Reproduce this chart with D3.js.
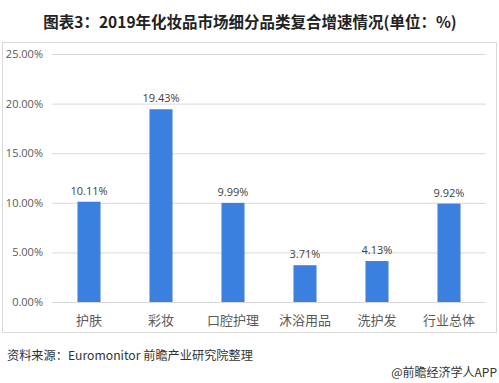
<!DOCTYPE html>
<html><head><meta charset="utf-8">
<script src="https://cdn.jsdelivr.net/npm/d3@7"></script>
<style>
body{margin:0;background:#fff;}
text{font-family:"Microsoft YaHei","Noto Sans CJK SC","DejaVu Sans",sans-serif;}
</style></head>
<body><svg id="c" width="499" height="383"></svg>
<script>
const categories = ["护肤","彩妆","口腔护理","沐浴用品","洗护发","行业总体"];
const values = [10.11, 19.43, 9.99, 3.71, 4.13, 9.92];
const yTicks = [0, 5, 10, 15, 20, 25];
const title = "图表3：2019年化妆品市场细分品类复合增速情况(单位：%)";
const source = "资料来源：Euromonitor 前瞻产业研究院整理";
const credit = "@前瞻经济学人APP";

const svg = d3.select("#c");
svg.append("rect").attr("x",2.5).attr("y",42.5).attr("width",494).attr("height",290)
  .attr("fill","#fff").attr("stroke","#d9d9d9");

svg.append("text").attr("x",250).attr("y",28).attr("text-anchor","middle")
  .attr("font-size",15.5).attr("font-weight","bold").attr("fill","#222").text(title);

const x = d3.scaleBand().domain(categories).range([53,485]).paddingInner(0.68).paddingOuter(0.34);
const y = d3.scaleLinear().domain([0,25]).range([302,54]);

const yAxis = svg.append("g").attr("transform","translate(52,0)")
  .call(d3.axisLeft(y).tickValues(yTicks).tickSize(-434).tickPadding(9).tickFormat(d=>d.toFixed(2)+"%"));
yAxis.select(".domain").remove();
yAxis.selectAll("line").attr("stroke","#d9d9d9");
yAxis.selectAll("text").attr("font-size",11).attr("fill","#595959")
  .style("font-family","'Open Sans','DejaVu Sans',sans-serif");

svg.selectAll("rect.bar").data(values).join("rect").attr("class","bar")
  .attr("x",(d,i)=>x(categories[i])).attr("width",x.bandwidth())
  .attr("y",d=>y(d)).attr("height",d=>y(0)-y(d)).attr("fill","#3b80df");

svg.selectAll("text.val").data(values).join("text").attr("class","val")
  .attr("x",(d,i)=>x(categories[i])+x.bandwidth()/2).attr("y",d=>y(d)-7)
  .attr("text-anchor","middle").attr("font-size",11).attr("fill","#404040")
  .style("font-family","'Open Sans','DejaVu Sans',sans-serif")
  .text(d=>d.toFixed(2)+"%");

const xAxis = svg.append("g").attr("transform","translate(0,302)")
  .call(d3.axisBottom(x).tickSize(0).tickPadding(14));
xAxis.select(".domain").remove();
xAxis.selectAll("text").attr("font-size",13).attr("fill","#595959")
  .style("font-family","'Noto Sans CJK SC',sans-serif");

svg.append("text").attr("x",7).attr("y",360).attr("font-size",12.2).attr("fill","#333")
  .style("font-family","'Noto Sans CJK SC',sans-serif").text(source);
svg.append("text").attr("x",497).attr("y",377).attr("text-anchor","end").attr("font-size",12).attr("fill","#333")
  .style("font-family","'Noto Sans CJK SC',sans-serif").text(credit);
</script></body></html>
